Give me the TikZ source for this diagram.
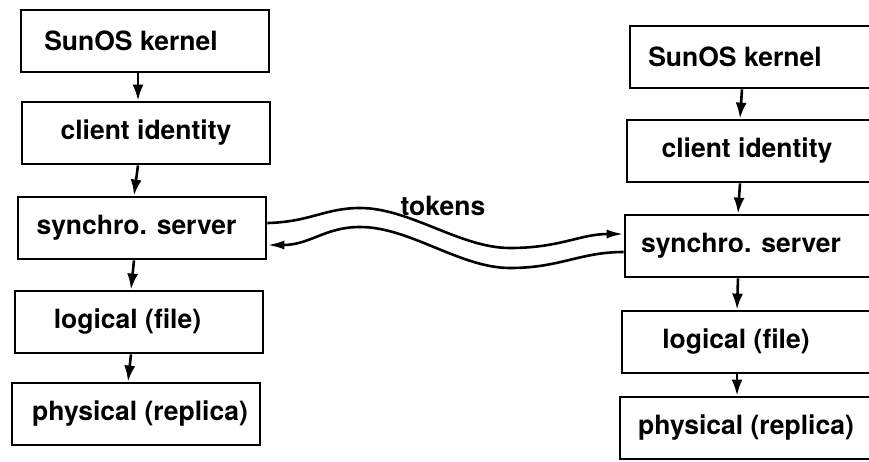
\documentclass[tikz,border=0pt]{standalone}
\usepackage{fontspec}
\setmainfont{TeX Gyre Heros}
\usetikzlibrary{arrows.meta}

\begin{document}
\begin{tikzpicture}[x=1pt, y=-1pt,
		layer/.style={draw, line width=2.8pt, minimum width=248pt, minimum height=62pt, inner sep=0pt,
			font=\fontsize{26.5}{30}\selectfont\bfseries},
		wide/.style={layer, minimum width=262pt},
		pad/.style={execute at end node={\hspace*{#1}}},
		down/.style={line width=2.6pt, -{Latex[length=16pt,width=11pt]}},
		wave/.style={line width=2.6pt, -{Latex[length=17pt,width=9pt]}}]
	\useasboundingbox (0,0) rectangle (869,461);
	% left host
	\node[layer, pad=28pt] (L1) at (145,41) {SunOS kernel};
	\node[layer] (L2) at (146,133) {client identity};
	\node[layer, pad=11pt] (L3) at (142,228) {synchro. server};
	\node[layer, pad=23pt] (L4) at (139,322) {logical (file)};
	\node[layer, pad=-8pt] (L5) at (136,414) {physical (replica)};
	% right host, cut at the page edge
	\node[wide, pad=52pt] (R1) at (761,57) {SunOS kernel};
	\node[wide, pad=22pt] (R2) at (758,151) {client identity};
	\node[wide, pad=30pt] (R3) at (756,246) {synchro. server};
	\node[wide, pad=34pt] (R4) at (753,342) {logical (file)};
	\node[wide, pad=10pt] (R5) at (751,428) {physical (replica)};
	\draw[down] ([xshift=-7pt]L1.south) -- ([xshift=-8pt]L2.north);
	\draw[down] ([xshift=-8pt]L2.south) -- ([xshift=-8pt]L3.north);
	\draw[down] ([xshift=-8pt]L3.south) -- ([xshift=-8pt]L4.north);
	\draw[down] ([xshift=-8pt]L4.south) -- ([xshift=-8pt]L5.north);
	\draw[down] ([xshift=-19pt]R1.south) -- ([xshift=-18pt]R2.north);
	\draw[down] ([xshift=-18pt]R2.south) -- ([xshift=-18pt]R3.north);
	\draw[down] ([xshift=-18pt]R3.south) -- ([xshift=-16pt]R4.north);
	\draw[down] ([xshift=-16pt]R4.south) -- ([xshift=-14pt]R5.north);
	% token exchange
	\draw[wave] ([yshift=5pt]L3.east) .. controls (310,222) and (325,208) .. (360,208)
		.. controls (410,208) and (460,248) .. (510,248)
		.. controls (560,248) and (580,234) .. ([yshift=12pt]R3.west);
	\draw[wave] ([yshift=-6pt]R3.west) .. controls (580,252) and (560,268) .. (510,268)
		.. controls (460,268) and (410,227) .. (360,227)
		.. controls (325,227) and (310,245) .. ([yshift=-17pt]L3.east);
	\node[anchor=base, font=\fontsize{26.5}{30}\selectfont\bfseries] (tok) at (443,215) {tokens};
\end{tikzpicture}
\end{document}
